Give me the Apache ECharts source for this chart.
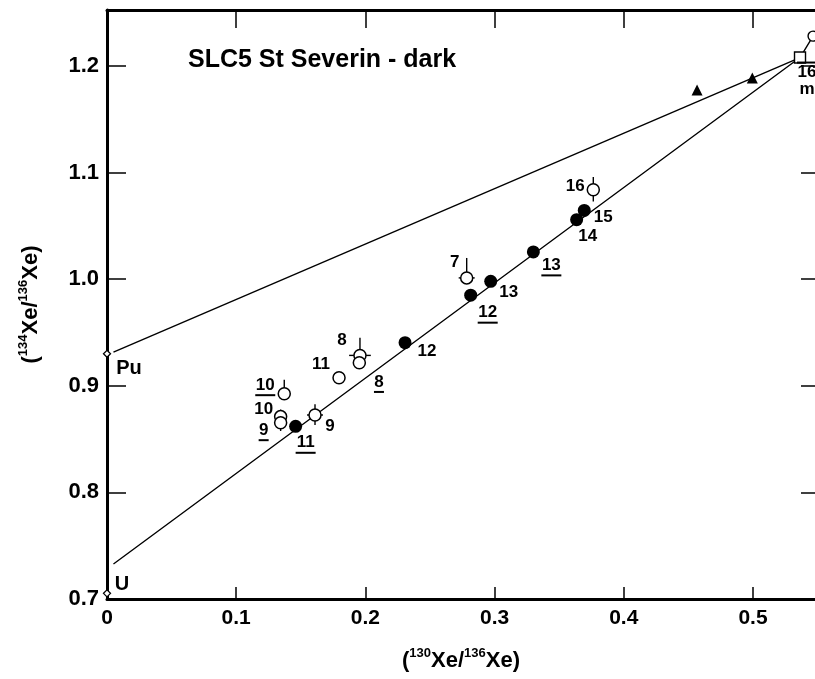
<!DOCTYPE html>
<html>
<head>
<meta charset="utf-8">
<script src="https://cdn.jsdelivr.net/npm/echarts@6.0.0/dist/echarts.min.js"></script>
<style>
  html, body { margin: 0; padding: 0; background: #fff; }
  #chart { width: 815px; height: 679px; }
</style>
</head>
<body>
<div id="chart"></div>
<script>
// values: x = 130Xe/136Xe, y = 134Xe/136Xe
var xTicks = [0, 0.1, 0.2, 0.3, 0.4, 0.5];
var yTicks = [0.7, 0.8, 0.9, 1.0, 1.1, 1.2];

// filled circles: [x, y, label, underlined]
var filledPts = [
  [0.146, 0.862, '11', 1],
  [0.2307, 0.9404, '12', 0],
  [0.2815, 0.985, '12', 1],
  [0.297, 0.998, '13', 0],
  [0.330, 1.0256, '13', 1],
  [0.3635, 1.0558, '14', 0],
  [0.3694, 1.0645, '15', 0]
];
// open circles: [x, y, label, underlined]
var openPts = [
  [0.3764, 1.0839, '16', 0],
  [0.2784, 1.0012, '7', 0],
  [0.1958, 0.9285, '8', 0],
  [0.1953, 0.9216, '', 0],
  [0.1796, 0.9076, '11', 0],
  [0.1372, 0.8926, '10', 1],
  [0.1344, 0.8711, '10', 0],
  [0.1344, 0.8654, '9', 1],
  [0.161, 0.8726, '9', 0]
];
// error bars for the open circles
var openErrX = [0, 0.0062, 0.0084, 0, 0, 0, 0, 0, 0.0062];
var openErrUp = [0.012, 0.0187, 0.0166, 0, 0, 0.013, 0.0066, 0, 0.010];
var openErrDown = [0.011, 0, 0, 0, 0, 0, 0, 0.0078, 0.0094];
// label with no marker
var loneLabels = [[0.2105, 0.9022, '8', 1]];

var trianglePts = [[0.4567, 1.1775], [0.4995, 1.1888]];
var squarePts = [[0.5364, 1.2079]];
var cornerPts = [[0.5465, 1.228]];
var endMembers = [[0, 0.930, 'Pu'], [0, 0.7053, 'U']];

var puLine = [[0.005, 0.9315], [0.5364, 1.2079]];
var uLine = [[0.005, 0.7328], [0.5364, 1.2079], [0.5465, 1.228]];

// label offsets (styling)
var filledOff = [[10, 18], [22, 9], [17, 19], [18, 11], [18, 15], [11, 17], [19, 7]];
var openOff = [[-18, -3], [-12, -16], [-18, -15], [0, 0], [-18, -13], [-19, -7], [-17, -7], [-17, 9], [15, 11]];
var loneOff = [[0, 0]];
var endOff = [[22, 15], [15, -9]];

var FONT = 'Liberation Sans';
var numRich = {
  n: { fontFamily: FONT, fontSize: 17, fontWeight: 'bold', color: '#000', lineHeight: 17 },
  u1: { width: 10, height: 2, lineHeight: 3, backgroundColor: '#000' },
  u2: { width: 20, height: 2, lineHeight: 3, backgroundColor: '#000' }
};

function labelText(t, u) {
  if (!t) return '';
  return u ? '{n|' + t + '}\n{u' + t.length + '|}' : '{n|' + t + '}';
}

function toData(pts, offs) {
  return pts.map(function (p, i) {
    return {
      value: [p[0], p[1]],
      label: {
        show: !!p[2],
        position: 'inside',
        offset: offs[i],
        formatter: labelText(p[2], p[3]),
        rich: numRich
      }
    };
  });
}

var axisNameRich = {
  p: { fontFamily: FONT, fontSize: 22, fontWeight: 'bold', color: '#000', lineHeight: 28 },
  s: { fontFamily: FONT, fontSize: 13, fontWeight: 'bold', color: '#000', lineHeight: 28, verticalAlign: 'top' }
};

function fmtTick(v) {
  return v === 0 ? '0' : v.toFixed(1);
}

var errData = openPts.map(function (p, i) {
  return [p[0], p[1], openErrX[i], openErrUp[i], openErrDown[i]];
}).filter(function (d) { return d[2] || d[3] || d[4]; });

var myChart = echarts.init(document.getElementById('chart'));
var lineStyle = { color: '#000', width: 1.4 };

var option = {
  backgroundColor: '#fff',
  animation: false,
  title: {
    text: 'SLC5 St Severin - dark',
    left: 183, top: 43,
    textStyle: { fontFamily: FONT, fontSize: 25, fontWeight: 'bold', color: '#000' }
  },
  grid: { left: 107, right: 0, top: 10, bottom: 80 },
  xAxis: [{
    type: 'value', min: 0, max: 0.548,
    name: '{p|(}{s|130}{p|Xe/}{s|136}{p|Xe)}',
    nameLocation: 'middle', nameGap: 48,
    nameTextStyle: { rich: axisNameRich },
    axisLine: { show: true, onZero: false, lineStyle: { color: '#000', width: 3 } },
    axisTick: { show: true, inside: true, length: 12, customValues: xTicks, lineStyle: { color: '#000', width: 1.5 } },
    axisLabel: { margin: 9, customValues: xTicks, formatter: fmtTick, fontFamily: FONT, fontSize: 21, fontWeight: 'bold', color: '#000' },
    splitLine: { show: false }
  }, {
    type: 'value', min: 0, max: 0.548, position: 'top',
    axisLine: { show: true, onZero: false, lineStyle: { color: '#000', width: 3 } },
    axisTick: { show: true, inside: true, length: 18, customValues: xTicks, lineStyle: { color: '#000', width: 1.5 } },
    axisLabel: { show: false },
    splitLine: { show: false }
  }],
  yAxis: [{
    type: 'value', min: 0.7, max: 1.2525,
    name: '{p|(}{s|134}{p|Xe/}{s|136}{p|Xe)}',
    nameLocation: 'middle', nameGap: 62, nameRotate: 90,
    nameTextStyle: { rich: axisNameRich },
    axisLine: { show: true, onZero: false, lineStyle: { color: '#000', width: 3 } },
    axisTick: { show: true, inside: true, length: 19, customValues: yTicks, lineStyle: { color: '#000', width: 1.5 } },
    axisLabel: { margin: 8, customValues: yTicks, formatter: fmtTick, fontFamily: FONT, fontSize: 22, fontWeight: 'bold', color: '#000' },
    splitLine: { show: false }
  }, {
    type: 'value', min: 0.7, max: 1.2525, position: 'right',
    axisLine: { show: false, onZero: false },
    axisTick: { show: true, inside: true, length: 14, customValues: yTicks, lineStyle: { color: '#000', width: 1.5 } },
    axisLabel: { show: false },
    splitLine: { show: false }
  }],
  series: [
    { type: 'line', data: puLine, symbol: 'none', lineStyle: lineStyle, z: 1 },
    { type: 'line', data: uLine, symbol: 'none', lineStyle: lineStyle, z: 1 },
    {
      type: 'custom', z: 2,
      data: errData,
      renderItem: function (params, api) {
        var x = api.value(0), y = api.value(1);
        var ex = api.value(2), eu = api.value(3), ed = api.value(4);
        var kids = [];
        var st = { stroke: '#000', lineWidth: 1.4 };
        var c = api.coord([x, y]);
        if (eu) {
          var t = api.coord([x, y + eu]);
          kids.push({ type: 'line', shape: { x1: c[0], y1: c[1], x2: t[0], y2: t[1] }, style: st });
        }
        if (ed) {
          var b = api.coord([x, y - ed]);
          kids.push({ type: 'line', shape: { x1: c[0], y1: c[1], x2: b[0], y2: b[1] }, style: st });
        }
        if (ex) {
          var l = api.coord([x - ex, y]), r = api.coord([x + ex, y]);
          kids.push({ type: 'line', shape: { x1: l[0], y1: l[1], x2: r[0], y2: r[1] }, style: st });
        }
        return { type: 'group', children: kids };
      }
    },
    {
      type: 'scatter', z: 3, symbol: 'circle', symbolSize: 12,
      itemStyle: { color: '#fff', borderColor: '#000', borderWidth: 1.5, opacity: 1 },
      data: toData(openPts, openOff)
    },
    {
      type: 'scatter', z: 4, symbol: 'circle', symbolSize: 13,
      itemStyle: { color: '#000', opacity: 1 },
      data: toData(filledPts, filledOff)
    },
    {
      type: 'scatter', z: 4, symbolSize: 0,
      itemStyle: { opacity: 1 },
      data: toData(loneLabels, loneOff)
    },
    {
      type: 'scatter', z: 4, symbol: 'triangle', symbolSize: 11,
      itemStyle: { color: '#000', opacity: 1 },
      data: trianglePts
    },
    {
      type: 'scatter', z: 4, symbol: 'rect', symbolSize: 11,
      itemStyle: { color: '#fff', borderColor: '#000', borderWidth: 1.4, opacity: 1 },
      label: {
        show: true, position: 'inside', offset: [7, 22],
        formatter: '{u2|}\n{n|16}\n{n|m}',
        rich: numRich
      },
      data: squarePts
    },
    {
      type: 'scatter', z: 4, symbol: 'circle', symbolSize: 10, clip: false,
      itemStyle: { color: '#fff', borderColor: '#000', borderWidth: 1.4, opacity: 1 },
      data: cornerPts
    },
    {
      type: 'scatter', z: 5, symbol: 'diamond', symbolSize: 7, clip: false,
      itemStyle: { color: '#fff', borderColor: '#000', borderWidth: 1.3, opacity: 1 },
      data: endMembers.map(function (p, i) {
        return {
          value: [p[0], p[1]],
          label: {
            show: true, position: 'inside', offset: endOff[i], formatter: p[2],
            fontFamily: FONT, fontSize: 20, fontWeight: 'bold', color: '#000'
          }
        };
      })
    }
  ]
};

myChart.setOption(option);
</script>
</body>
</html>
